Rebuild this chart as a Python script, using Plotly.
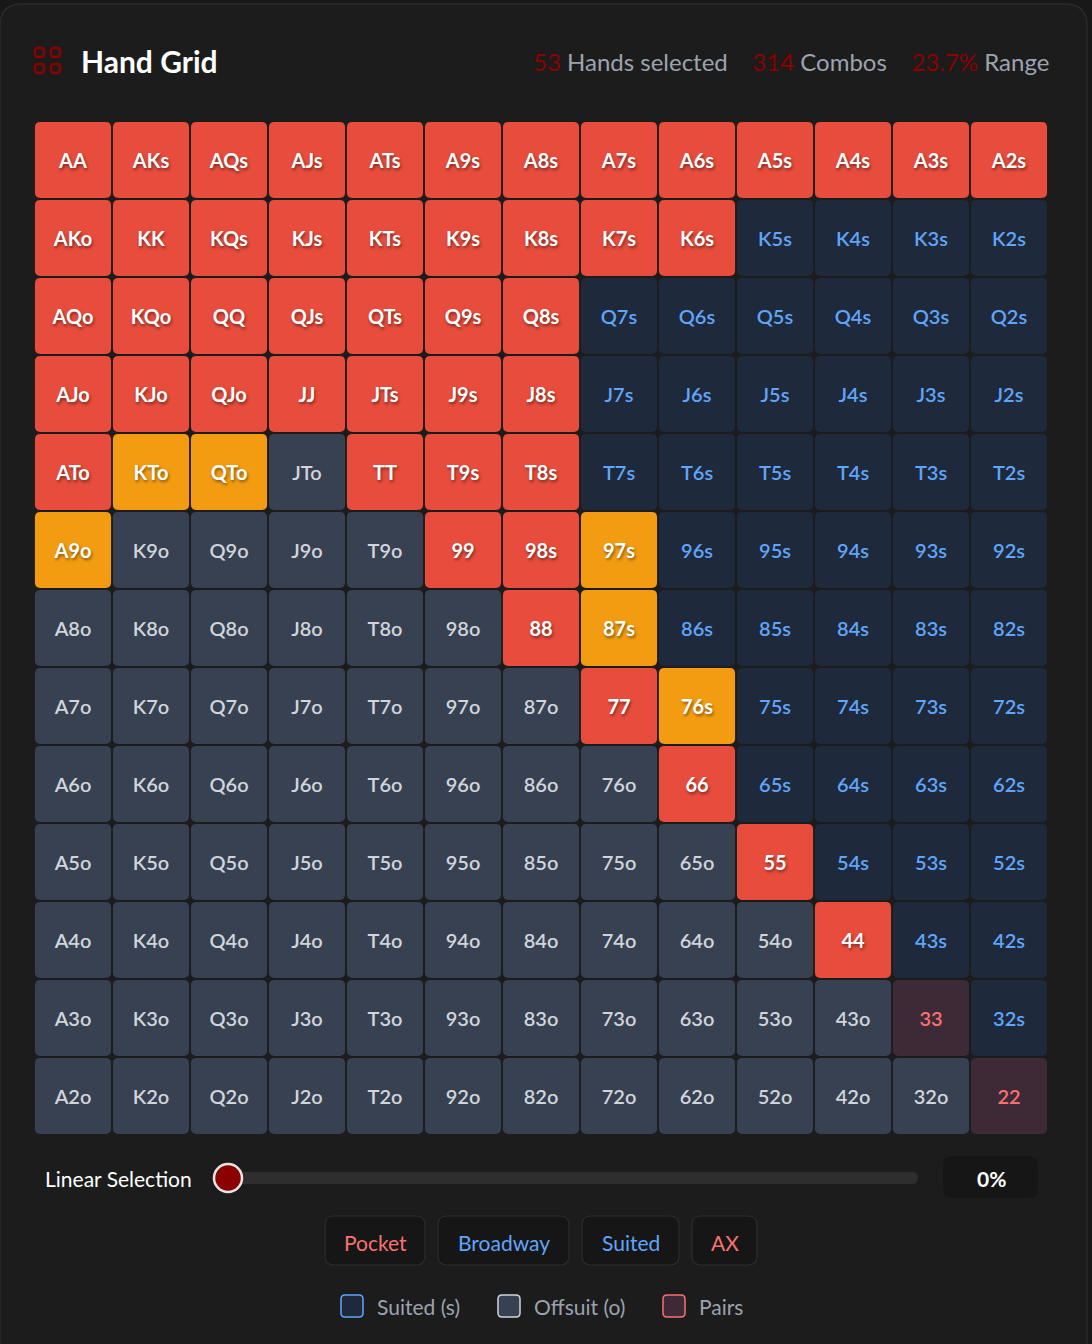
import plotly.graph_objects as go

W, H = 1092, 1344
FONT = "Lato"

# grid data
ranks = list("AKQJT98765432")
red_hands = [
    "AA", "AKs", "AQs", "AJs", "ATs", "A9s", "A8s", "A7s", "A6s", "A5s", "A4s", "A3s", "A2s",
    "AKo", "KK", "KQs", "KJs", "KTs", "K9s", "K8s", "K7s", "K6s",
    "AQo", "KQo", "QQ", "QJs", "QTs", "Q9s", "Q8s",
    "AJo", "KJo", "QJo", "JJ", "JTs", "J9s", "J8s",
    "ATo", "TT", "T9s", "T8s",
    "99", "98s", "88", "77", "66", "55", "44",
]
orange_hands = ["KTo", "QTo", "A9o", "97s", "87s", "76s"]

hands_selected = 53
combos = 314
range_pct = "23.7%"

slider_label = "Linear Selection"
slider_value = "0%"
buttons = ["Pocket", "Broadway", "Suited", "AX"]
button_colors = ["#f87171", "#60a5fa", "#60a5fa", "#f87171"]
legend_labels = ["Suited (s)", "Offsuit (o)", "Pairs"]

# colours
RED, ORANGE = "#e74c3c", "#f39c12"
BG = {"s": "#1e293b", "o": "#374151", "p": "#3d2a36"}
FG = {"s": "#60a5fa", "o": "#d1d5db", "p": "#f87171"}


def rrect(x0, y0, x1, y1, r):
    return (f"M{x0+r},{y0} L{x1-r},{y0} Q{x1},{y0} {x1},{y0+r} "
            f"L{x1},{y1-r} Q{x1},{y1} {x1-r},{y1} L{x0+r},{y1} "
            f"Q{x0},{y1} {x0},{y1-r} L{x0},{y0+r} Q{x0},{y0} {x0+r},{y0} Z")


def hand_name(i, j):
    if i == j:
        return ranks[i] * 2, "p"
    if j > i:
        return ranks[i] + ranks[j] + "s", "s"
    return ranks[j] + ranks[i] + "o", "o"


fig = go.Figure()
shapes = []
annotations = []

# card background (paper refs so it sits under every subplot)
cx0, cy0, cx1, cy1, cr = 0, 4, 1087, 1380, 22
card = (f"M{(cx0+cr)/W},{1-cy0/H} L{(cx1-cr)/W},{1-cy0/H} Q{cx1/W},{1-cy0/H} {cx1/W},{1-(cy0+cr)/H} "
        f"L{cx1/W},{1-cy1/H} L{cx0/W},{1-cy1/H} L{cx0/W},{1-(cy0+cr)/H} "
        f"Q{cx0/W},{1-cy0/H} {(cx0+cr)/W},{1-cy0/H} Z")
shapes.append(dict(type="path", xref="paper", yref="paper", path=card,
                   fillcolor="#1c1c1c", line=dict(color="#2a2a2a", width=1.5), layer="below"))

# cells
text_groups = {"sel": ([], [], []), "s": ([], [], []), "o": ([], [], []), "p": ([], [], [])}
g = 0.012
for i in range(13):
    for j in range(13):
        name, kind = hand_name(i, j)
        if name in red_hands:
            fill, grp = RED, "sel"
        elif name in orange_hands:
            fill, grp = ORANGE, "sel"
        else:
            fill, grp = BG[kind], kind
        shapes.append(dict(type="path", xref="x", yref="y", layer="below",
                           path=rrect(j - 0.5 + g, i - 0.5 + g, j + 0.5 - g, i + 0.5 - g, 0.07),
                           fillcolor=fill, line=dict(width=0)))
        xs, ys, ts = text_groups[grp]
        xs.append(j)
        ys.append(i + 0.035)
        ts.append(name)

for grp, (xs, ys, ts) in text_groups.items():
    if grp == "sel":
        tf = dict(family=FONT, size=20, color="white", weight=700,
                  shadow="1px 2px 3px rgba(0,0,0,0.45)")
    else:
        tf = dict(family=FONT, size=20, color=FG[grp], weight=600)
    fig.add_trace(go.Scatter(x=xs, y=ys, text=ts, mode="text", textposition="middle center",
                             textfont=tf, hoverinfo="skip", showlegend=False, cliponaxis=False))

# pixel axes over the whole page
fig.add_trace(go.Scatter(x=[0], y=[0], xaxis="x2", yaxis="y2", mode="markers",
                         marker=dict(opacity=0), hoverinfo="skip", showlegend=False))

# header icon
for (x0, y0) in [(35, 48), (51, 48), (35, 64), (51, 64)]:
    shapes.append(dict(type="path", xref="x2", yref="y2", path=rrect(x0, y0, x0 + 9, y0 + 9, 3),
                       line=dict(color="#8b0000", width=2.5)))
annotations.append(dict(x=79, y=61, xref="x2", yref="y2", text="<b>Hand Grid</b>", showarrow=False,
                        xanchor="left", yanchor="middle",
                        font=dict(family=FONT, size=30, color="#ffffff")))
stats = (f"<span style='color:#8b0000'>{hands_selected}</span> Hands selected"
         f"&nbsp;&nbsp;&nbsp;&nbsp;<span style='color:#8b0000'>{combos}</span> Combos"
         f"&nbsp;&nbsp;&nbsp;&nbsp;<span style='color:#8b0000'>{range_pct}</span> Range")
annotations.append(dict(x=1051, y=61, xref="x2", yref="y2", text=stats, showarrow=False,
                        xanchor="right", yanchor="middle",
                        font=dict(family=FONT, size=24, color="#9ca3af")))

# slider
annotations.append(dict(x=43, y=1178, xref="x2", yref="y2", text=slider_label, showarrow=False,
                        xanchor="left", yanchor="middle",
                        font=dict(family=FONT, size=21, color="#ffffff")))
shapes.append(dict(type="path", xref="x2", yref="y2", path=rrect(228, 1172, 918, 1184, 6),
                   fillcolor="#2e2e2e", line=dict(width=0)))
shapes.append(dict(type="circle", xref="x2", yref="y2", x0=214, y0=1164, x1=242, y1=1192,
                   fillcolor="#8b0000", line=dict(color="#e5e5e5", width=2.5)))
shapes.append(dict(type="path", xref="x2", yref="y2", path=rrect(943, 1156, 1038, 1198, 10),
                   fillcolor="#161616", line=dict(width=0)))
annotations.append(dict(x=991, y=1178, xref="x2", yref="y2", text=f"<b>{slider_value}</b>",
                        showarrow=False, xanchor="center", yanchor="middle",
                        font=dict(family=FONT, size=21, color="#ffffff")))

# quick buttons
btn_x = [(325, 425), (438, 569), (582, 679), (692, 757)]
for (x0, x1), label, col in zip(btn_x, buttons, button_colors):
    shapes.append(dict(type="path", xref="x2", yref="y2", path=rrect(x0, 1216, x1, 1265, 9),
                       fillcolor="#161616", line=dict(color="#2c2c2c", width=1.2)))
    annotations.append(dict(x=(x0 + x1) / 2, y=1242, xref="x2", yref="y2", text=label,
                            showarrow=False, xanchor="center", yanchor="middle",
                            font=dict(family=FONT, size=21, color=col)))

# legend
leg_x = [341, 498, 663]
leg_kinds = ["s", "o", "p"]
for x0, label, k in zip(leg_x, legend_labels, leg_kinds):
    shapes.append(dict(type="path", xref="x2", yref="y2", path=rrect(x0, 1295, x0 + 22, 1317, 4),
                       fillcolor=BG[k], line=dict(color=FG[k], width=1.5)))
    annotations.append(dict(x=x0 + 34, y=1306, xref="x2", yref="y2", text=label,
                            showarrow=False, xanchor="left", yanchor="middle",
                            font=dict(family=FONT, size=21, color="#9ca3af")))

fig.update_layout(
    width=W, height=H,
    margin=dict(l=0, r=0, t=0, b=0),
    paper_bgcolor="#181818", plot_bgcolor="rgba(0,0,0,0)",
    xaxis=dict(domain=[34 / W, 1048 / W], range=[-0.5, 12.5], visible=False, fixedrange=True),
    yaxis=dict(domain=[1 - 1135 / H, 1 - 121 / H], range=[12.5, -0.5], visible=False, fixedrange=True),
    xaxis2=dict(domain=[0, 1], range=[0, W], visible=False, anchor="y2", fixedrange=True),
    yaxis2=dict(domain=[0, 1], range=[H, 0], visible=False, anchor="x2", fixedrange=True),
    shapes=shapes,
    annotations=annotations,
    showlegend=False,
)

# drop the default body margin so the figure sits at the page origin
fig.write_html("out.html", config={"displayModeBar": False},
               post_script="document.body.style.margin='0';document.body.style.overflow='hidden';")
